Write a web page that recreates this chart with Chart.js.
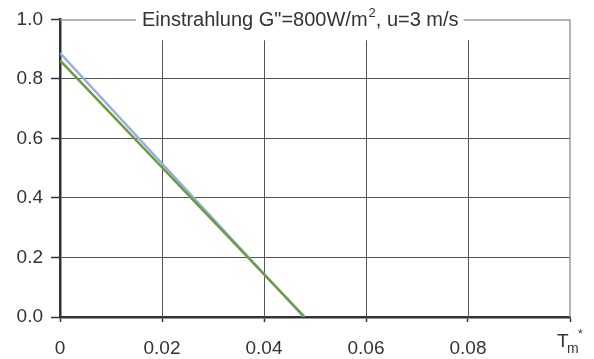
<!DOCTYPE html>
<html lang="de">
<head>
  <meta charset="UTF-8">
  <title>Einstrahlung 800 W/m²</title>
  <script src="https://cdn.jsdelivr.net/npm/chart.js"></script>
  <style>
    body { margin: 0; background: #fff; }
    #wrap { width: 594px; height: 359px; }
  </style>
</head>
<body>
  <div id="wrap"><canvas id="chart" width="594" height="359"></canvas></div>
  <script>
    // line ends (x = Tm*, y = efficiency)
    const blueX = [0, 0.0478];
    const blueY = [0.887, 0];
    const greenX = [0, 0.048];
    const greenY = [0.862, 0];
    const xTicks = [0, 0.02, 0.04, 0.06, 0.08, 0.1];
    const xTickLabels = ['0', '0.02', '0.04', '0.06', '0.08', ''];
    const yTicks = [0, 0.2, 0.4, 0.6, 0.8, 1.0];
    const yTickLabels = ['0.0', '0.2', '0.4', '0.6', '0.8', '1.0'];
    const titleText = 'Einstrahlung G"=800W/m';

    const FONT = '"Liberation Sans", Arial, sans-serif';
    const pts = (xs, ys) => xs.map((x, i) => ({ x: x, y: ys[i] }));

    // vertical grid (stops below the title), frame, title and axis name
    const decor = {
      id: 'decor',
      beforeDatasetsDraw(chart) {
        const { ctx, chartArea: a, scales: { x, y } } = chart;
        ctx.save();
        ctx.strokeStyle = '#555';
        ctx.lineWidth = 1;
        xTicks.slice(1, -1).forEach(v => {
          const px = Math.round(x.getPixelForValue(v)) + 0.5;
          ctx.beginPath();
          ctx.moveTo(px, y.getPixelForValue(0.93));
          ctx.lineTo(px, a.bottom);
          ctx.stroke();
        });

        // title
        ctx.fillStyle = '#333';
        ctx.textBaseline = 'alphabetic';
        ctx.font = '20px ' + FONT;
        const w1 = ctx.measureText(titleText).width;
        ctx.font = '13px ' + FONT;
        const w2 = ctx.measureText('2').width;
        ctx.font = '20px ' + FONT;
        const w3 = ctx.measureText(', u=3 m/s').width;
        const tx = 142, ty = 26;
        ctx.fillText(titleText, tx, ty);
        ctx.font = '13px ' + FONT;
        ctx.fillText('2', tx + w1 + 1, ty - 9);
        ctx.font = '20px ' + FONT;
        ctx.fillText(', u=3 m/s', tx + w1 + w2 + 1, ty);
        const tEnd = tx + w1 + w2 + 1 + w3;

        // frame top/right
        const top = y.getPixelForValue(1) + 0.5;
        const right = x.getPixelForValue(0.1);
        ctx.strokeStyle = '#9a9a9a';
        ctx.lineWidth = 1.5;
        ctx.beginPath();
        ctx.moveTo(a.left, top);
        ctx.lineTo(tx - 6, top);
        ctx.moveTo(tEnd + 5, top);
        ctx.lineTo(right, top);
        ctx.lineTo(right, a.bottom);
        ctx.stroke();

        // axis name Tm*
        ctx.fillStyle = '#333';
        ctx.font = '19px ' + FONT;
        ctx.fillText('T', 557, 347);
        ctx.font = '14px ' + FONT;
        ctx.fillText('m', 567, 353);
        ctx.font = '12px ' + FONT;
        ctx.fillText('*', 578, 338);
        ctx.restore();
      }
    };

    new Chart(document.getElementById('chart'), {
      type: 'scatter',
      data: {
        datasets: [
          {
            label: 'blau',
            data: pts(blueX, blueY),
            showLine: true,
            borderColor: '#93ade6',
            borderWidth: 2.5,
            pointRadius: 0,
            order: 1
          },
          {
            label: 'grün',
            data: pts(greenX, greenY),
            showLine: true,
            borderColor: '#6e9b3e',
            borderWidth: 2.5,
            pointRadius: 0,
            order: 0
          }
        ]
      },
      options: {
        responsive: false,
        animation: false,
        layout: { padding: { top: 16, right: 24, left: 0, bottom: 0 } },
        plugins: { legend: { display: false }, tooltip: { enabled: false } },
        scales: {
          x: {
            type: 'linear',
            min: 0,
            max: 0.1,
            afterBuildTicks: s => { s.ticks = xTicks.map(v => ({ value: v })); },
            afterFit: s => { s.height = 42; },
            ticks: {
              color: '#333',
              font: { family: FONT, size: 19 },
              padding: 15,
              maxRotation: 0,
              callback: (v, i) => xTickLabels[i]
            },
            grid: { drawOnChartArea: false, tickLength: 5, tickColor: '#333', tickWidth: 1.5 },
            border: { color: '#333', width: 2.5 }
          },
          y: {
            min: 0,
            max: 1,
            afterBuildTicks: s => { s.ticks = yTicks.map(v => ({ value: v })); },
            afterFit: s => { s.width = 60; },
            ticks: {
              color: '#333',
              font: { family: FONT, size: 19 },
              padding: 8,
              callback: (v, i) => yTickLabels[i]
            },
            grid: {
              color: c => (c.tick && c.tick.value === 1) ? 'rgba(0,0,0,0)' : '#555',
              lineWidth: 1,
              tickLength: 9,
              tickColor: '#333',
              tickWidth: 1.5
            },
            border: { color: '#333', width: 2.5 }
          }
        }
      },
      plugins: [decor]
    });
  </script>
</body>
</html>
